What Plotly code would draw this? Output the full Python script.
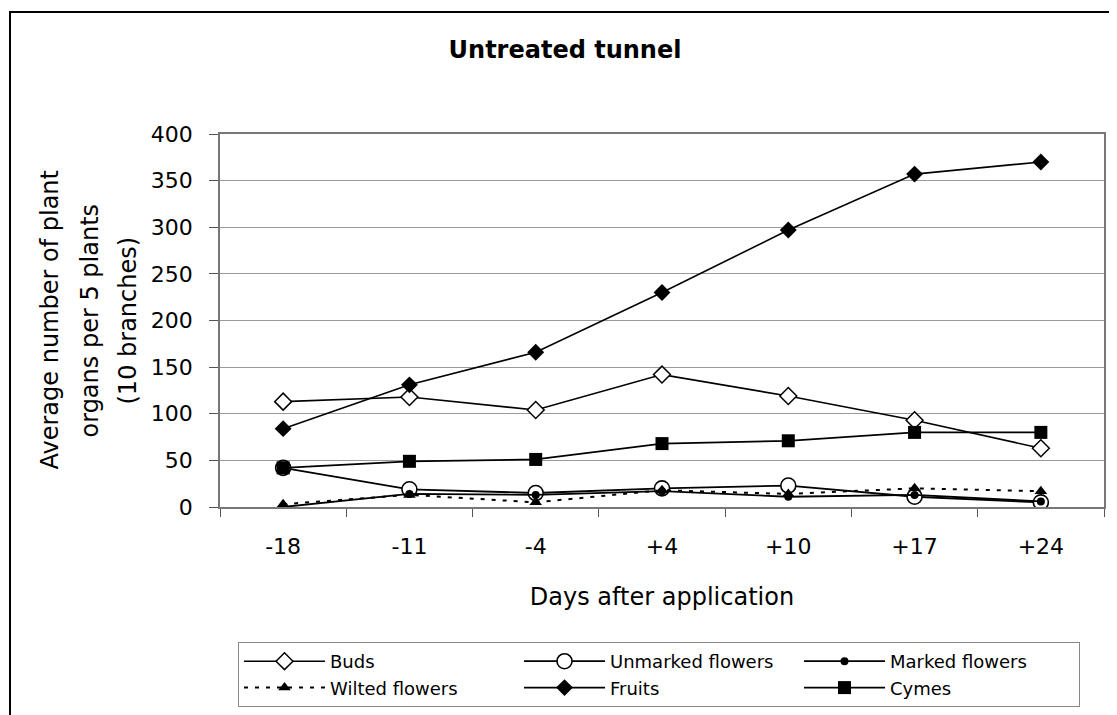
import plotly.graph_objects as go

days = ["-18", "-11", "-4", "+4", "+10", "+17", "+24"]
buds = [113, 118, 104, 142, 119, 93, 63]
unmarked_flowers = [42, 19, 15, 20, 23, 11, 5]
marked_flowers = [0, 14, 13, 17, 11, 13, 6]
wilted_flowers = [3, 13, 5, 18, 14, 20, 17]
fruits = [84, 131, 166, 230, 297, 357, 370]
cymes = [42, 49, 51, 68, 71, 80, 80]

FONT = "DejaVu Sans"
OFF = 8  # page body margin offset
W, H = 1117 - OFF, 715 - OFF
# plot area in screen pixels
SX0, SX1, SY0, SY1 = 220, 1104, 134, 507
L, R, T, B = SX0 - OFF, W - (SX1 - OFF), SY0 - OFF, H - (SY1 - OFF)
PW, PH = W - L - R, H - T - B

def px_x(p):
    return (p - SX0) / PW

def px_y(p):
    return (SY1 - p) / PH

fig = go.Figure()

fig.add_trace(go.Scatter(
    x=days, y=buds, name="Buds", mode="lines+markers",
    line=dict(color="black", width=1.6),
    marker=dict(symbol="diamond", size=13, color="white", line=dict(color="black", width=1.5)),
))
fig.add_trace(go.Scatter(
    x=days, y=unmarked_flowers, name="Unmarked flowers", mode="lines+markers",
    line=dict(color="black", width=1.8),
    marker=dict(symbol="circle", size=15, color="white", line=dict(color="black", width=1.6)),
))
fig.add_trace(go.Scatter(
    x=days, y=marked_flowers, name="Marked flowers", mode="lines+markers",
    line=dict(color="black", width=1.8),
    marker=dict(symbol="circle", size=8, color="black"),
))
fig.add_trace(go.Scatter(
    x=days, y=wilted_flowers, name="Wilted flowers", mode="lines+markers",
    line=dict(color="black", width=2, dash="4px,7px"),
    marker=dict(symbol="triangle-up", size=11, color="black"),
))
fig.add_trace(go.Scatter(
    x=days, y=fruits, name="Fruits", mode="lines+markers",
    line=dict(color="black", width=1.6),
    marker=dict(symbol="diamond", size=13, color="black"),
))
fig.add_trace(go.Scatter(
    x=days, y=cymes, name="Cymes", mode="lines+markers",
    line=dict(color="black", width=1.8),
    marker=dict(symbol="square", size=13, color="black"),
))

fig.update_xaxes(
    type="category", categoryorder="array", categoryarray=days,
    range=[-0.5, len(days) - 0.5], tickson="boundaries",
    showgrid=False, showline=True, linecolor="#777", linewidth=1.5, mirror=True,
    ticks="outside", ticklen=8, tickcolor="#555", tickwidth=1,
    tickfont=dict(family=FONT, size=22, color="black"),
    ticklabelstandoff=19,
    title=dict(text="Days after application", font=dict(family=FONT, size=24, color="black"), standoff=30),
)
fig.update_yaxes(
    range=[0, 400], dtick=50, showgrid=True, gridcolor="#9a9a9a", gridwidth=1,
    showline=True, linecolor="#777", linewidth=1.5, mirror=True, zeroline=False,
    ticks="outside", ticklen=9, tickcolor="#555", tickwidth=1,
    tickfont=dict(family=FONT, size=22, color="black"),
    ticklabelstandoff=12,
)

ytitle_lines = ["Average number of plant", "organs per 5 plants", "(10 branches)"]
ytitle_x = [49, 89, 127]
for txt, xp in zip(ytitle_lines, ytitle_x):
    fig.add_annotation(
        text=txt, textangle=-90, xref="paper", yref="paper",
        x=px_x(xp), y=0.5, xanchor="center", yanchor="middle", showarrow=False,
        font=dict(family=FONT, size=24, color="black"),
    )

fig.add_shape(
    type="rect", xref="paper", yref="paper",
    x0=px_x(10), x1=px_x(1135), y0=px_y(735), y1=px_y(12),
    line=dict(color="black", width=2), layer="above",
)

fig.update_layout(
    width=W, height=H,
    margin=dict(l=L, r=R, t=T, b=B, autoexpand=False),
    paper_bgcolor="white", plot_bgcolor="white",
    title=dict(
        text="<b>Untreated tunnel</b>", xref="container", yref="container",
        x=(565 - OFF) / W, xanchor="center", y=1 - (50 - OFF) / H, yanchor="middle",
        font=dict(family=FONT, size=24, color="black"),
    ),
    legend=dict(
        orientation="h", x=px_x(238), xanchor="left", y=px_y(642), yanchor="top",
        entrywidth=184, entrywidthmode="pixels", itemwidth=81,
        bordercolor="#888", borderwidth=1, bgcolor="white",
        font=dict(family=FONT, size=18, color="black"),
        traceorder="normal", tracegroupgap=0,
    ),
    showlegend=True,
)

fig.write_html("out.html")
